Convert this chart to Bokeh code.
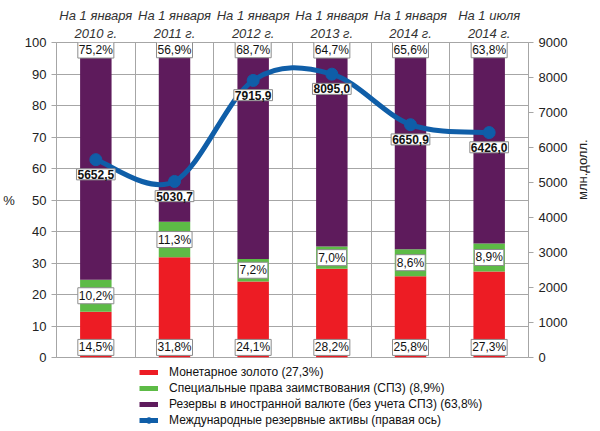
import math
from bokeh.plotting import figure
from bokeh.layouts import column
from bokeh.models import (Range1d, LinearAxis, FixedTicker, Legend, LegendItem)
from bokeh.core.properties import value
from bokeh.embed import file_html
from bokeh.resources import INLINE

# ---- data ----
categories = ["На 1 января\n2010 г.", "На 1 января\n2011 г.", "На 1 января\n2012 г.",
              "На 1 января\n2013 г.", "На 1 января\n2014 г.", "На 1 июля\n2014 г."]
gold = [14.5, 31.8, 24.1, 28.2, 25.8, 27.3]
sdr = [10.2, 11.3, 7.2, 7.0, 8.6, 8.9]
fx = [75.2, 56.9, 68.7, 64.7, 65.6, 63.8]
reserves = [5652.5, 5030.7, 7915.9, 8095.0, 6650.9, 6426.0]
left_ticks = [0, 10, 20, 30, 40, 50, 60, 70, 80, 90, 100]
right_ticks = [0, 1000, 2000, 3000, 4000, 5000, 6000, 7000, 8000, 9000]
legend_labels = ["Монетарное золото (27,3%)",
                 "Специальные права заимствования (СПЗ) (8,9%)",
                 "Резервы в иностранной валюте (без учета СПЗ) (63,8%)",
                 "Международные резервные активы (правая ось)"]

RED = "#ED1C24"
GREEN = "#5DBB46"
PURPLE = "#5E1B5C"
BLUE = "#0F5EA8"
GRID = "#A6A6A6"
FONT = "Liberation Sans"
NAN = float("nan")

n = len(categories)
xs = [i + 0.5 for i in range(n)]
g_top = gold
s_top = [g + s for g, s in zip(gold, sdr)]
f_top = [g + s + f for g, s, f in zip(gold, sdr, fx)]

BL, BR = 53, 63

p = figure(width=600, height=365, output_backend="svg", toolbar_location=None,
           x_range=Range1d(0, n), y_range=Range1d(0, 100), x_axis_location="above",
           min_border_left=BL, min_border_right=BR, min_border_top=42, min_border_bottom=8)
p.extra_y_ranges = {"right": Range1d(0, 9000)}
p.background_fill_color = "white"
p.border_fill_color = "white"
p.outline_line_color = GRID
p.outline_line_width = 1

# grids
p.xgrid.ticker = FixedTicker(ticks=list(range(1, n)))
p.xgrid.grid_line_color = GRID
p.ygrid.grid_line_color = GRID
p.ygrid.ticker = FixedTicker(ticks=left_ticks)

# top axis (category labels)
xa = p.xaxis[0]
xa.ticker = FixedTicker(ticks=xs)
xa.major_label_overrides = {x: c for x, c in zip(xs, categories)}
xa.axis_line_color = None
xa.major_tick_line_color = None
xa.minor_tick_line_color = None
xa.major_tick_out = 0
xa.major_tick_in = 0
xa.major_label_standoff = 2
xa.major_label_text_font = FONT
xa.major_label_text_font_size = "13px"
xa.major_label_text_font_style = "italic"
xa.major_label_text_color = "#333333"

# left axis
ya = p.yaxis[0]
ya.ticker = FixedTicker(ticks=left_ticks)
ya.axis_line_color = GRID
ya.major_tick_line_color = GRID
ya.minor_tick_line_color = None
ya.major_tick_out = 5
ya.major_tick_in = 0
ya.major_label_standoff = 5
ya.major_label_text_font = FONT
ya.major_label_text_font_size = "13px"
ya.major_label_text_color = "#222222"
ya.axis_label = "%"
ya.axis_label_orientation = "horizontal"
ya.axis_label_standoff = 7
ya.axis_label_text_font = FONT
ya.axis_label_text_font_size = "13px"
ya.axis_label_text_font_style = "normal"
ya.axis_label_text_color = "#222222"

# right axis
ra = LinearAxis(y_range_name="right", ticker=FixedTicker(ticks=right_ticks))
ra.axis_line_color = GRID
ra.major_tick_line_color = GRID
ra.minor_tick_line_color = None
ra.major_tick_out = 5
ra.major_tick_in = 0
ra.major_label_standoff = 5
ra.major_label_text_font = FONT
ra.major_label_text_font_size = "13px"
ra.major_label_text_color = "#222222"
ra.axis_label = "млн.долл."
ra.axis_label_orientation = math.pi / 2
ra.axis_label_standoff = 12
ra.axis_label_text_font = FONT
ra.axis_label_text_font_size = "13px"
ra.axis_label_text_font_style = "normal"
ra.axis_label_text_color = "#222222"
p.add_layout(ra, "right")

# bars
bw = 0.4
p.vbar(x=xs, bottom=0, top=g_top, width=bw, fill_color=RED, line_color=None)
p.vbar(x=xs, bottom=g_top, top=s_top, width=bw, fill_color=GREEN, line_color=None)
p.vbar(x=xs, bottom=s_top, top=f_top, width=bw, fill_color=PURPLE, line_color=None)

# smoothed line (Catmull-Rom -> cubic Bezier)
pts = list(zip(xs, reserves))
bx0, by0, bx1, by1, bcx0, bcy0, bcx1, bcy1 = [], [], [], [], [], [], [], []
for i in range(n - 1):
    p0 = pts[i - 1] if i > 0 else pts[i]
    p1 = pts[i]
    p2 = pts[i + 1]
    p3 = pts[i + 2] if i + 2 < n else pts[i + 1]
    bx0.append(p1[0]); by0.append(p1[1])
    bx1.append(p2[0]); by1.append(p2[1])
    bcx0.append(p1[0] + (p2[0] - p0[0]) / 6); bcy0.append(p1[1] + (p2[1] - p0[1]) / 6)
    bcx1.append(p2[0] - (p3[0] - p1[0]) / 6); bcy1.append(p2[1] - (p3[1] - p1[1]) / 6)
p.bezier(x0=bx0, y0=by0, x1=bx1, y1=by1, cx0=bcx0, cy0=bcy0, cx1=bcx1, cy1=bcy1,
         line_color=BLUE, line_width=5, y_range_name="right")
p.scatter(x=xs, y=reserves, size=12, marker="circle", fill_color=BLUE, line_color=BLUE,
          y_range_name="right")

# value labels
def fmt(v, pct=True):
    s = f"{v:.1f}".replace(".", ",")
    return s + "%" if pct else s

box = dict(text_font=value(FONT), text_align="center", text_baseline="middle",
           background_fill_color="white", border_line_color="#8C8C8C", border_line_width=1,
           padding=1, text_color="#111111")

p.text(x=xs, y=[t - 2.3 for t in f_top], text=[fmt(v) for v in fx], text_font_size="12px", **box)
p.text(x=xs, y=[g + s / 2 for g, s in zip(gold, sdr)], text=[fmt(v) for v in sdr],
       text_font_size="12px", **box)
p.text(x=xs, y=[3.2] * n, text=[fmt(v) for v in gold], text_font_size="12px", **box)
p.text(x=xs, y=[r - 420 for r in reserves], text=[fmt(v, False) for v in reserves],
       text_font_size="12px", text_font_style="bold", y_range_name="right", **box)

# legend (separate strip below the chart, frame aligned with the chart's frame)
q = figure(width=600, height=66, output_backend="svg", toolbar_location=None,
           x_range=Range1d(0, 1), y_range=Range1d(0, 1),
           min_border_left=BL, min_border_right=BR, min_border_top=0, min_border_bottom=0)
q.axis.visible = False
q.grid.visible = False
q.outline_line_color = None
q.background_fill_color = "white"
q.border_fill_color = "white"
lr = q.line(x=[NAN], y=[NAN], line_color=RED, line_width=5)
lg = q.line(x=[NAN], y=[NAN], line_color=GREEN, line_width=5)
lp = q.line(x=[NAN], y=[NAN], line_color=PURPLE, line_width=5)
lb = q.line(x=[NAN], y=[NAN], line_color=BLUE, line_width=5)
lbm = q.scatter(x=[NAN], y=[NAN], size=10, marker="circle", fill_color=BLUE, line_color=BLUE)
legend = Legend(items=[LegendItem(label=legend_labels[0], renderers=[lr]),
                       LegendItem(label=legend_labels[1], renderers=[lg]),
                       LegendItem(label=legend_labels[2], renderers=[lp]),
                       LegendItem(label=legend_labels[3], renderers=[lb, lbm])],
                location=(136 - BL, 4), orientation="vertical")
legend.label_text_font = FONT
legend.label_text_font_size = "12px"
legend.label_text_color = "#111111"
legend.label_height = 14
legend.glyph_height = 14
legend.glyph_width = 19
legend.spacing = 2
legend.padding = 0
legend.margin = 0
legend.label_standoff = 11
legend.border_line_color = None
legend.background_fill_alpha = 0
q.add_layout(legend, "center")

open("out.html", "w").write(file_html(column(p, q, spacing=0), INLINE))
